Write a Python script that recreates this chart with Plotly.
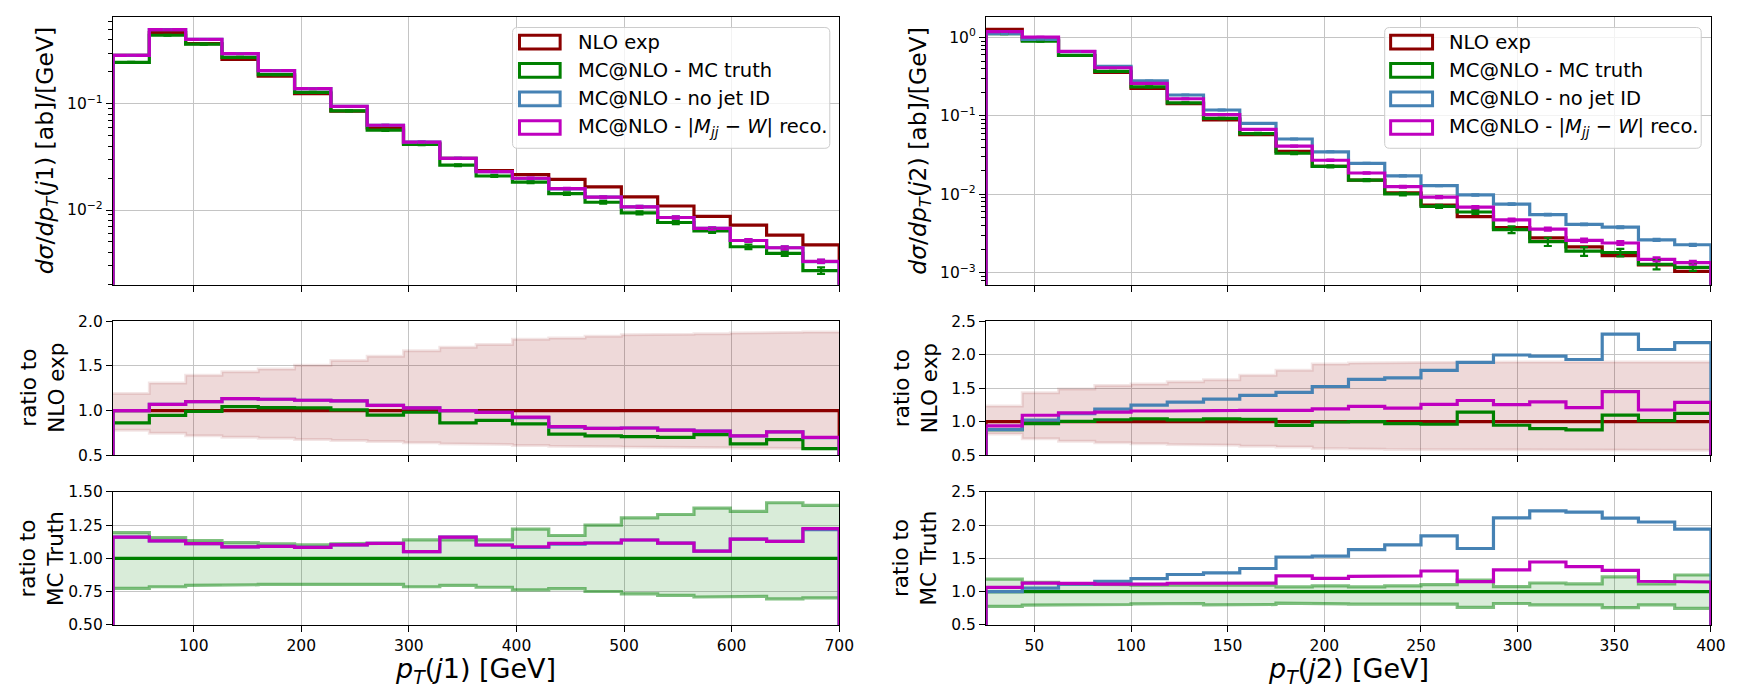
import plotly.graph_objects as go

W, H = 1742, 695

# ---------------- data ----------------
edges_j1 = [25, 58.75, 92.5, 126.25, 160, 193.75, 227.5, 261.25, 295, 328.75, 362.5,
            396.25, 430, 463.75, 497.5, 531.25, 565, 598.75, 632.5, 666.25, 700]
edges_j2 = [25, 43.75, 62.5, 81.25, 100, 118.75, 137.5, 156.25, 175, 193.75, 212.5,
            231.25, 250, 268.75, 287.5, 306.25, 325, 343.75, 362.5, 381.25, 400]

nlo_j1 = [0.285, 0.467, 0.368, 0.262, 0.182, 0.1245, 0.0852, 0.0594, 0.0422, 0.0306,
          0.0235, 0.0215, 0.0194, 0.0165, 0.0133, 0.0109, 0.0087, 0.0072, 0.0058, 0.0047]
truth_j1 = [0.2457, 0.4418, 0.3643, 0.2733, 0.188, 0.1282, 0.0858, 0.0564, 0.0414, 0.0264,
            0.0209, 0.0183, 0.01428, 0.01183, 0.0094, 0.00763, 0.00635, 0.00451, 0.00391, 0.00269]
nojet_j1 = [0.285, 0.4997, 0.4048, 0.2971, 0.2051, 0.1389, 0.0945, 0.0628, 0.0435, 0.0306,
            0.0230, 0.0198, 0.0158, 0.0132, 0.0107, 0.0085, 0.0067, 0.00516, 0.00441, 0.00327]
reco_j1 = [0.285, 0.4997, 0.4048, 0.2971, 0.2051, 0.1389, 0.0945, 0.0628, 0.0435, 0.0306,
           0.0230, 0.0199, 0.0159, 0.0132, 0.0107, 0.0085, 0.0067, 0.00516, 0.00441, 0.00329]

nlo_j2 = [1.27, 0.925, 0.59, 0.36, 0.225, 0.143, 0.089, 0.0575, 0.0353, 0.0228,
          0.0152, 0.0104, 0.0073, 0.0052, 0.00375, 0.00278, 0.00214, 0.00165, 0.00126, 0.00104]
truth_j2 = [1.118, 0.898, 0.593, 0.3704, 0.2347, 0.1471, 0.0928, 0.0595, 0.0334, 0.0227,
            0.0152, 0.0101, 0.00702, 0.00595, 0.00355, 0.00249, 0.00188, 0.00181, 0.00128, 0.00117]
nojet_j2 = [1.118, 0.947, 0.661, 0.428, 0.281, 0.185, 0.119, 0.0802, 0.0508, 0.0348,
            0.0248, 0.0172, 0.0129, 0.00981, 0.00749, 0.00551, 0.00413, 0.00381, 0.00262, 0.00227]
reco_j2 = [1.19, 1.014, 0.667, 0.412, 0.261, 0.1657, 0.104, 0.0672, 0.0413, 0.0272,
           0.0187, 0.0125, 0.0092, 0.00685, 0.00471, 0.0036, 0.00259, 0.00239, 0.00148, 0.00134]

# relative statistical errors
relerr_truth_j1 = [0.01, 0.01, 0.01, 0.01, 0.01, 0.012, 0.012, 0.014, 0.015, 0.018,
                   0.02, 0.022, 0.028, 0.03, 0.032, 0.036, 0.042, 0.05, 0.055, 0.07]
relerr_nojet_j1 = [0.006, 0.006, 0.006, 0.006, 0.007, 0.008, 0.009, 0.01, 0.011, 0.012,
                   0.013, 0.015, 0.017, 0.02, 0.022, 0.024, 0.027, 0.03, 0.033, 0.035]
relerr_reco_j1 = [0.006, 0.006, 0.006, 0.006, 0.007, 0.008, 0.009, 0.01, 0.011, 0.012,
                  0.013, 0.015, 0.017, 0.02, 0.022, 0.024, 0.027, 0.03, 0.033, 0.035]
relerr_truth_j2 = [0.01, 0.01, 0.01, 0.012, 0.013, 0.015, 0.017, 0.02, 0.025, 0.028,
                   0.032, 0.038, 0.045, 0.055, 0.1, 0.12, 0.13, 0.11, 0.14, 0.1]
relerr_nojet_j2 = [0.005, 0.005, 0.005, 0.006, 0.007, 0.008, 0.009, 0.01, 0.011, 0.012,
                   0.013, 0.015, 0.017, 0.019, 0.021, 0.023, 0.025, 0.027, 0.03, 0.03]
relerr_reco_j2 = [0.006, 0.006, 0.007, 0.008, 0.009, 0.01, 0.012, 0.014, 0.016, 0.018,
                  0.02, 0.024, 0.028, 0.032, 0.04, 0.045, 0.05, 0.055, 0.06, 0.055]

# uncertainty bands (relative)
nlo_up_j1 = [1.19, 1.31, 1.395, 1.435, 1.467, 1.507, 1.56, 1.61, 1.67, 1.71,
             1.74, 1.80, 1.815, 1.833, 1.85, 1.855, 1.86, 1.87, 1.877, 1.88]
nlo_dn_j1 = [0.78, 0.746, 0.717, 0.70, 0.69, 0.674, 0.663, 0.652, 0.638, 0.627,
             0.62, 0.609, 0.60, 0.594, 0.59, 0.587, 0.583, 0.58, 0.576, 0.572]
truth_up_j1 = [1.193, 1.157, 1.133, 1.118, 1.109, 1.101, 1.109, 1.114, 1.139, 1.139,
               1.139, 1.22, 1.172, 1.25, 1.305, 1.33, 1.378, 1.353, 1.418, 1.398]
truth_dn_j1 = [0.775, 0.787, 0.797, 0.802, 0.804, 0.807, 0.807, 0.804, 0.787, 0.797,
               0.783, 0.763, 0.773, 0.751, 0.734, 0.722, 0.71, 0.715, 0.696, 0.703]
nlo_up_j2 = [1.236, 1.434, 1.49, 1.54, 1.564, 1.598, 1.627, 1.694, 1.771, 1.863,
             1.877, 1.887, 1.888, 1.89, 1.89, 1.892, 1.892, 1.893, 1.893, 1.894]
nlo_dn_j2 = [0.817, 0.745, 0.706, 0.687, 0.672, 0.658, 0.648, 0.634, 0.62, 0.60,
             0.59, 0.586, 0.583, 0.58, 0.58, 0.578, 0.577, 0.576, 0.575, 0.574]
truth_up_j2 = [1.188, 1.14, 1.111, 1.106, 1.096, 1.10, 1.092, 1.096, 1.072, 1.087,
               1.072, 1.087, 1.106, 1.173, 1.077, 1.13, 1.116, 1.222, 1.116, 1.25]
truth_dn_j2 = [0.778, 0.797, 0.807, 0.807, 0.817, 0.822, 0.802, 0.807, 0.827, 0.817,
               0.812, 0.822, 0.812, 0.764, 0.822, 0.802, 0.802, 0.759, 0.802, 0.75]

legend_labels = ["NLO exp", "MC@NLO - MC truth", "MC@NLO - no jet ID",
                 "MC@NLO - |<i>M<sub>jj</sub></i> \u2212 <i>W</i>| reco."]

# ---------------- style ----------------
FONT = "DejaVu Sans"
C_NLO = "#8b0000"
C_TRUTH = "#008000"
C_NOJET = "#4682b4"
C_RECO = "#bf00bf"
LW = 3.2


def steps(edges, vals, base=None):
    xs, ys = [], []
    for i, v in enumerate(vals):
        xs += [edges[i], edges[i + 1]]
        ys += [v, v]
    if base is not None:
        xs = [edges[0]] + xs + [edges[-1]]
        ys = [base] + ys + [base]
    return xs, ys


def centers(edges):
    return [(edges[i] + edges[i + 1]) / 2 for i in range(len(edges) - 1)]


fig = go.Figure()


def ax(n):
    return ("x" if n == 1 else f"x{n}"), ("y" if n == 1 else f"y{n}")


def add_line(n, edges, vals, color, base, width=LW):
    xa, ya = ax(n)
    xs, ys = steps(edges, vals, base)
    fig.add_trace(go.Scatter(x=xs, y=ys, mode="lines", line=dict(color=color, width=width),
                             xaxis=xa, yaxis=ya, hoverinfo="skip"))


def add_err(n, edges, vals, rel, color):
    xa, ya = ax(n)
    fig.add_trace(go.Scatter(x=centers(edges), y=vals, mode="markers",
                             marker=dict(size=1, color=color, opacity=0),
                             error_y=dict(type="data", array=[v * r for v, r in zip(vals, rel)],
                                          color=color, thickness=2.2, width=4),
                             xaxis=xa, yaxis=ya, hoverinfo="skip"))


def add_band(n, edges, up, dn, fillcolor, edgecolor, edgewidth):
    xa, ya = ax(n)
    xu, yu = steps(edges, up)
    xd, yd = steps(edges, dn)
    fig.add_trace(go.Scatter(x=xu + xd[::-1], y=yu + yd[::-1], mode="lines", fill="toself",
                             fillcolor=fillcolor, line=dict(width=0),
                             xaxis=xa, yaxis=ya, hoverinfo="skip"))
    for xs, ys in [(xu, yu), (xd, yd)]:
        fig.add_trace(go.Scatter(x=xs, y=ys, mode="lines",
                                 line=dict(color=edgecolor, width=edgewidth),
                                 xaxis=xa, yaxis=ya, hoverinfo="skip"))


def ratio(a, b):
    return [x / y for x, y in zip(a, b)]


for (nt, nm, nb, edges, nlo, truth, nojet, reco, re_t, re_n, re_r,
     nu, nd, tu, td) in [
        (1, 2, 3, edges_j1, nlo_j1, truth_j1, nojet_j1, reco_j1,
         relerr_truth_j1, relerr_nojet_j1, relerr_reco_j1,
         nlo_up_j1, nlo_dn_j1, truth_up_j1, truth_dn_j1),
        (4, 5, 6, edges_j2, nlo_j2, truth_j2, nojet_j2, reco_j2,
         relerr_truth_j2, relerr_nojet_j2, relerr_reco_j2,
         nlo_up_j2, nlo_dn_j2, truth_up_j2, truth_dn_j2)]:
    # top: absolute distributions
    add_line(nt, edges, nlo, C_NLO, 1e-9)
    add_line(nt, edges, truth, C_TRUTH, 1e-9)
    add_line(nt, edges, nojet, C_NOJET, 1e-9)
    add_line(nt, edges, reco, C_RECO, 1e-9)
    add_err(nt, edges, truth, re_t, C_TRUTH)
    add_err(nt, edges, nojet, re_n, C_NOJET)
    add_err(nt, edges, reco, re_r, C_RECO)
    # middle: ratio to NLO
    add_band(nm, edges, nu, nd, "rgba(139,0,0,0.15)", "rgba(139,0,0,0.10)", 3)
    add_line(nm, edges, ratio(nlo, nlo), C_NLO, 0)
    add_line(nm, edges, ratio(truth, nlo), C_TRUTH, 0)
    add_line(nm, edges, ratio(nojet, nlo), C_NOJET, 0)
    add_line(nm, edges, ratio(reco, nlo), C_RECO, 0)
    # bottom: ratio to MC truth
    add_band(nb, edges, tu, td, "rgba(0,128,0,0.15)", "rgba(0,128,0,0.5)", 3.2)
    add_line(nb, edges, ratio(truth, truth), C_TRUTH, 0)
    add_line(nb, edges, ratio(nojet, truth), C_NOJET, 0)
    add_line(nb, edges, ratio(reco, truth), C_RECO, 0)

# ---------------- axes ----------------
cols = {"L": (114, 846.5), "R": (994.6, 1725.8)}
rows = {"top": (8, 283), "mid": (320.7, 458), "bot": (495.7, 632.3)}

tickfont = dict(family=FONT, size=15.5, color="black")
common = dict(showline=True, mirror=True, linecolor="black", linewidth=1.3,
              ticks="outside", ticklen=6, tickwidth=1.2, tickcolor="black",
              showgrid=True, gridcolor="#c4c4c4", gridwidth=1.2, zeroline=False,
              tickfont=tickfont)


def minor_vals(lo_exp, hi_exp):
    out = []
    for e in range(lo_exp, hi_exp + 1):
        for k in range(2, 10):
            out.append(k * 10 ** e)
    return out


panels = [
    (1, "L", "top", [25, 700], [100, 200, 300, 400, 500, 600, 700]),
    (2, "L", "mid", [25, 700], [100, 200, 300, 400, 500, 600, 700]),
    (3, "L", "bot", [25, 700], [100, 200, 300, 400, 500, 600, 700]),
    (4, "R", "top", [25, 400], [50, 100, 150, 200, 250, 300, 350, 400]),
    (5, "R", "mid", [25, 400], [50, 100, 150, 200, 250, 300, 350, 400]),
    (6, "R", "bot", [25, 400], [50, 100, 150, 200, 250, 300, 350, 400]),
]

yspec = {
    1: dict(type="log", range=[-2.703, -0.181], tickvals=[0.01, 0.1],
            ticktext=["10<sup>\u22122</sup>", "10<sup>\u22121</sup>"],
            minor=dict(tickvals=minor_vals(-3, -1), ticks="outside", ticklen=3.5,
                       tickwidth=1, tickcolor="black", showgrid=False)),
    2: dict(range=[0.5, 2.0], tickvals=[0.5, 1.0, 1.5, 2.0], tickformat=".1f"),
    3: dict(range=[0.5, 1.5], tickvals=[0.5, 0.75, 1.0, 1.25, 1.5], tickformat=".2f"),
    4: dict(type="log", range=[-3.153, 0.265], tickvals=[0.001, 0.01, 0.1, 1],
            ticktext=["10<sup>\u22123</sup>", "10<sup>\u22122</sup>", "10<sup>\u22121</sup>",
                      "10<sup>0</sup>"],
            minor=dict(tickvals=minor_vals(-4, 0), ticks="outside", ticklen=3.5,
                       tickwidth=1, tickcolor="black", showgrid=False)),
    5: dict(range=[0.5, 2.5], tickvals=[0.5, 1.0, 1.5, 2.0, 2.5], tickformat=".1f"),
    6: dict(range=[0.5, 2.5], tickvals=[0.5, 1.0, 1.5, 2.0, 2.5], tickformat=".1f"),
}

layout = dict(width=W, height=H, margin=dict(l=0, r=0, t=0, b=0),
              paper_bgcolor="white", plot_bgcolor="white", showlegend=False,
              font=dict(family=FONT, color="black"))

for n, c, r, xr, xt in panels:
    x0, x1 = cols[c]
    y0, y1 = rows[r]
    xa, ya = ax(n)
    xkey = "xaxis" if n == 1 else f"xaxis{n}"
    ykey = "yaxis" if n == 1 else f"yaxis{n}"
    layout[xkey] = dict(common, domain=[x0 / W, x1 / W], anchor=ya, range=xr,
                        tickvals=xt, showticklabels=(r == "bot"))
    layout[ykey] = dict(common, domain=[1 - y1 / H, 1 - y0 / H], anchor=xa, **yspec[n])

fig.update_layout(**layout)

# ---------------- axis titles ----------------
ann = []


def title(x, y, text, size, angle=0):
    ann.append(dict(x=x / W, y=1 - y / H, xref="paper", yref="paper", text=text,
                    showarrow=False, textangle=angle, xanchor="center", yanchor="middle",
                    font=dict(family=FONT, size=size, color="black")))


title(47, 145.5, "<i>d\u03c3</i>/<i>dp<sub>T</sub></i>(<i>j</i>1) [ab]/[GeV]", 23.5, -90)
title(43, 389.3, "ratio to<br>NLO exp", 21.5, -90)
title(42, 564, "ratio to<br>MC Truth", 21.5, -90)
title(928, 145.5, "<i>d\u03c3</i>/<i>dp<sub>T</sub></i>(<i>j</i>2) [ab]/[GeV]", 23.5, -90)
title(923, 389.3, "ratio to<br>NLO exp", 21.5, -90)
title(922, 564, "ratio to<br>MC Truth", 21.5, -90)
title(480, 679, "<i>p<sub>T</sub></i>(<i>j</i>1) [GeV]", 27)
title(1360, 679, "<i>p<sub>T</sub></i>(<i>j</i>2) [GeV]", 27)

# ---------------- legends ----------------
shapes = []


def rounded_rect(x0, y0, x1, y1, r):
    X = lambda x: x / W
    Y = lambda y: 1 - y / H
    return (f"M {X(x0 + r)},{Y(y0)} L {X(x1 - r)},{Y(y0)} Q {X(x1)},{Y(y0)} {X(x1)},{Y(y0 + r)} "
            f"L {X(x1)},{Y(y1 - r)} Q {X(x1)},{Y(y1)} {X(x1 - r)},{Y(y1)} "
            f"L {X(x0 + r)},{Y(y1)} Q {X(x0)},{Y(y1)} {X(x0)},{Y(y1 - r)} "
            f"L {X(x0)},{Y(y0 + r)} Q {X(x0)},{Y(y0)} {X(x0 + r)},{Y(y0)} Z")


colors = [C_NLO, C_TRUTH, C_NOJET, C_RECO]
row_c = [34, 63, 92.3, 121.7]
for bx0, bx1, hx0, hx1, tx in [(517, 837, 524, 565, 581), (1396.7, 1716, 1402.7, 1445, 1459.3)]:
    shapes.append(dict(type="path", path=rounded_rect(bx0, 19, bx1, 143, 5),
                       xref="paper", yref="paper", fillcolor="rgba(255,255,255,0.8)",
                       line=dict(color="#cccccc", width=1)))
    for lab, col, cy in zip(legend_labels, colors, row_c):
        shapes.append(dict(type="rect", xref="paper", yref="paper",
                           x0=hx0 / W, x1=hx1 / W, y0=1 - (cy + 7) / H, y1=1 - (cy - 7) / H,
                           line=dict(color=col, width=3), fillcolor="rgba(0,0,0,0)"))
        ann.append(dict(x=tx / W, y=1 - cy / H, xref="paper", yref="paper", text=lab,
                        showarrow=False, xanchor="left", yanchor="middle",
                        font=dict(family=FONT, size=19.5, color="black")))

fig.update_layout(annotations=ann, shapes=shapes)
fig.write_html("out.html")
